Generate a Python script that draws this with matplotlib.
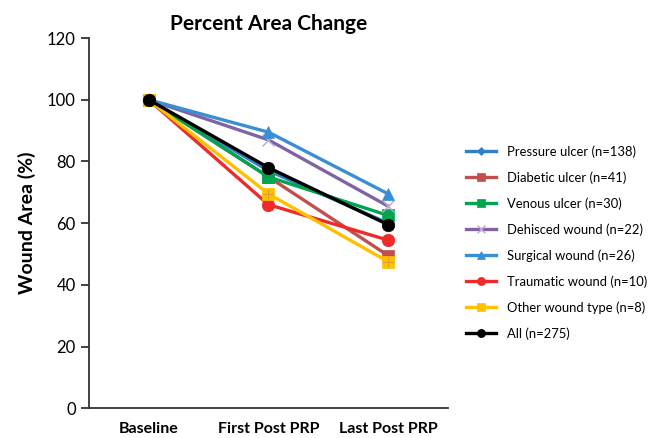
import matplotlib.pyplot as plt

plt.rcParams['font.family'] = ['Lato', 'DejaVu Sans']

stages = ["Baseline", "First Post PRP", "Last Post PRP"]

pressure = [100, 77, 60]
diabetic = [100, 75, 49.5]
venous = [100, 75, 62.5]
dehisced = [100, 87, 65.5]
surgical = [100, 89.5, 69.5]
traumatic = [100, 66, 54.5]
other = [100, 69.5, 47.5]
all_wounds = [100, 78, 59.5]

series = [
    ("Pressure ulcer (n=138)", pressure, "#2F80C8", "D", 6),
    ("Diabetic ulcer (n=41)", diabetic, "#C0504D", "s", 8),
    ("Venous ulcer (n=30)", venous, "#00A550", "s", 8),
    ("Dehisced wound (n=22)", dehisced, "#8064A2", "x", 8),
    ("Surgical wound (n=26)", surgical, "#3A8FD3", "^", 9),
    ("Traumatic wound (n=10)", traumatic, "#EE2A2A", "o", 9),
    ("Other wound type (n=8)", other, "#FFC000", "s", 8),
    ("All (n=275)", all_wounds, "#000000", "o", 9),
]

fig = plt.figure(figsize=(6.54, 4.38), dpi=100)
ax = fig.add_axes([0.136, 0.068, 0.549, 0.845])

x = list(range(len(stages)))
for label, vals, color, marker, ms in series:
    if marker == "x":
        ax.plot(x, vals, color=color, lw=2.4, marker=marker, markersize=ms,
                markeredgewidth=1.0, markeredgecolor="#B9A8D0", label=label)
    else:
        ax.plot(x, vals, color=color, lw=2.4, marker=marker, markersize=ms,
                markeredgewidth=0.5, markeredgecolor=color, label=label)
    if label.startswith("Other"):
        # pale cross drawn on top of the gold squares
        ax.plot(x, vals, ls="none", marker="+", markersize=7,
                markeredgewidth=0.8, color="#E0A030")

ax.set_xlim(-0.5, 2.5)
ax.set_ylim(0, 120)
ax.set_yticks(range(0, 121, 20))
ax.set_xticks(x)
ax.set_xticklabels(stages, fontsize=11.5, fontweight="bold")
ax.tick_params(axis="x", length=0, pad=10)
ax.tick_params(axis="y", labelsize=12, length=6, width=1.3, direction="out",
               color="#333333")

for side in ("top", "right"):
    ax.spines[side].set_visible(False)
for side in ("left", "bottom"):
    ax.spines[side].set_linewidth(1.3)
    ax.spines[side].set_color("#333333")

ax.set_ylabel("Wound Area (%)", fontsize=14, fontweight="bold", labelpad=8)
ax.set_title("Percent Area Change", fontsize=15, fontweight="bold", pad=6)

fig.legend(loc="upper left", bbox_to_anchor=(0.695, 0.695), frameon=False,
           fontsize=9.4, handlelength=2.3, labelspacing=1.03, markerscale=0.65)

fig.savefig("out.png", dpi=100)
